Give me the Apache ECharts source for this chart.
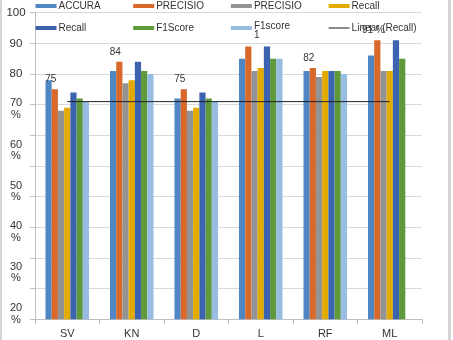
<!DOCTYPE html>
<html>
<head>
<meta charset="utf-8">
<script src="https://cdn.jsdelivr.net/npm/echarts@6/dist/echarts.min.js"></script>
<style>
  html, body { margin: 0; padding: 0; background: #fff; }
  #wrap { position: relative; width: 453px; height: 340px; }
  #chart { width: 453px; height: 340px; }
  #frame { position: absolute; left: 0; top: 0; width: 446px; height: 340px;
           border-left: 2px solid #d4d4d4; border-right: 3px solid #d4d4d4; pointer-events: none; }
</style>
</head>
<body>
<div id="wrap"><div id="chart"></div><div id="frame"></div></div>
<script>
// ---- data ----
const categories = ['SV', 'KN', 'D', 'L', 'RF', 'ML'];
const accura     = [78, 81, 72, 85, 81, 86];
const precisio   = [75, 84, 75, 89, 82, 91];
const precisio2  = [68, 77, 68, 81, 79, 81];
const recall     = [69, 78, 69, 82, 81, 81];
const recall2    = [74, 84, 74, 89, 81, 91];
const f1Score    = [72, 81, 72, 85, 81, 85];
const f1score2   = [71, 80, 71, 85, 80, null];
const linearRecall = [71, 71, 71, 71, 71, 71];
const precisioLabels = ['75', '84', '75', '', '82', '91 %'];
// tick label text for values 0,10,...,100
const yTickLabels = ['', '', '20\n%', '30\n%', '40\n%', '50\n%', '60\n%', '70\n%', '80', '90', '100'];

// layout only: vertical drift (px) of the two-line tick labels in the reference
const yLabelDrift = { 20: 50, 30: 39.4, 40: 29.8, 50: 19.7, 60: 9.5, 70: -1.3 };

const FONT = 'Liberation Sans, Arial, sans-serif';
const colors = ['#4E87C4', '#D9692B', '#939393', '#E3AA00', '#3C63B0', '#5E9A3C', '#97BDE3'];
const names = ['ACCURA', 'PRECISIO', 'PRECISIO ', 'Recall', 'Recall ', 'F1Score', 'F1score', 'Linear (Recall)'];
const barData = [accura, precisio, precisio2, recall, recall2, f1Score, f1score2];

const series = barData.map((d, i) => ({
  name: names[i],
  type: 'bar',
  data: d,
  barGap: '0%',
  barCategoryGap: '32.5%',
  itemStyle: { color: colors[i] },
  label: i === 1 ? {
    show: true, position: 'top', distance: 5, offset: [-4, 0],
    fontSize: 10, color: '#333', fontFamily: FONT,
    formatter: p => precisioLabels[p.dataIndex]
  } : { show: false },
  z: 2
}));
series.push({
  name: names[7],
  type: 'line',
  data: linearRecall,
  symbol: 'none',
  lineStyle: { color: '#222', width: 1 },
  itemStyle: { color: '#222' },
  z: 5
});

// rich styles for y labels
const yRich = {
  n: { fontSize: 11, height: 11, lineHeight: 12, color: '#333', fontFamily: FONT, align: 'center' },
  b: { fontSize: 11.5, color: '#333', fontFamily: FONT, align: 'center' }
};
Object.keys(yLabelDrift).forEach(k => {
  const P = Math.max(0, 2 * (yLabelDrift[k] + 6));
  yRich['p' + k] = { fontSize: 11, height: 11, lineHeight: 11 + P, padding: [P, 0, 0, 0],
                     color: '#333', fontFamily: FONT, align: 'center' };
});
function yLabel(v) {
  const idx = Math.round(v / 10);
  const txt = yTickLabels[idx] || '';
  if (!txt) return '';
  const parts = txt.split('\n');
  if (parts.length === 1) return '{b|' + txt + '}';
  return '{p' + v + '|' + parts[0] + '}\n{n|' + parts[1] + '}';
}

const legendBase = {
  orient: 'horizontal',
  left: 35.5,
  padding: 0,
  itemGap: 0,
  itemWidth: 21,
  itemHeight: 4,
  icon: 'rect',
  selectedMode: false,
  textStyle: {
    fontSize: 10, color: '#333', fontFamily: FONT, width: 74.7, lineHeight: 12,
    padding: [0, 0, 0, -3],
    rich: {
      f: { fontSize: 10, color: '#333', fontFamily: FONT, height: 10, lineHeight: 15, padding: [5, 0, 0, 0] },
      g: { fontSize: 10, color: '#333', fontFamily: FONT, lineHeight: 9 }
    }
  }
};

const option = {
  animation: false,
  grid: { left: 35, right: 31, top: 12.7, bottom: 20.7, containLabel: false },
  legend: [
    Object.assign({}, legendBase, { top: 0, data: names.slice(0, 4) }),
    Object.assign({}, legendBase, {
      top: 16,
      data: [
        names[4], names[5], names[6],
        { name: names[7], icon: 'path://M0,0H20V1H0Z' }
      ],
      formatter: n => (n === 'F1score' ? '{f|F1score}\n{g|1}' : n)
    })
  ],
  xAxis: {
    type: 'category',
    data: categories,
    axisLine: { show: true, lineStyle: { color: '#bfbfbf' } },
    axisTick: { show: true, length: 5, lineStyle: { color: '#bfbfbf' } },
    axisLabel: { fontSize: 11, color: '#333', fontFamily: FONT, margin: 9 }
  },
  yAxis: {
    type: 'value', min: 0, max: 100, interval: 10,
    axisLine: { show: true, lineStyle: { color: '#bfbfbf' } },
    axisTick: { show: true, length: 5, lineStyle: { color: '#bfbfbf' } },
    axisLabel: {
      show: true, formatter: yLabel, rich: yRich,
      align: 'center', margin: 19, fontSize: 11, color: '#333', fontFamily: FONT
    },
    splitLine: { show: true, lineStyle: { color: '#d9d9d9' } }
  },
  series: series
};

const chart = echarts.init(document.getElementById('chart'), null, { renderer: 'canvas' });
chart.setOption(option);
</script>
</body>
</html>
